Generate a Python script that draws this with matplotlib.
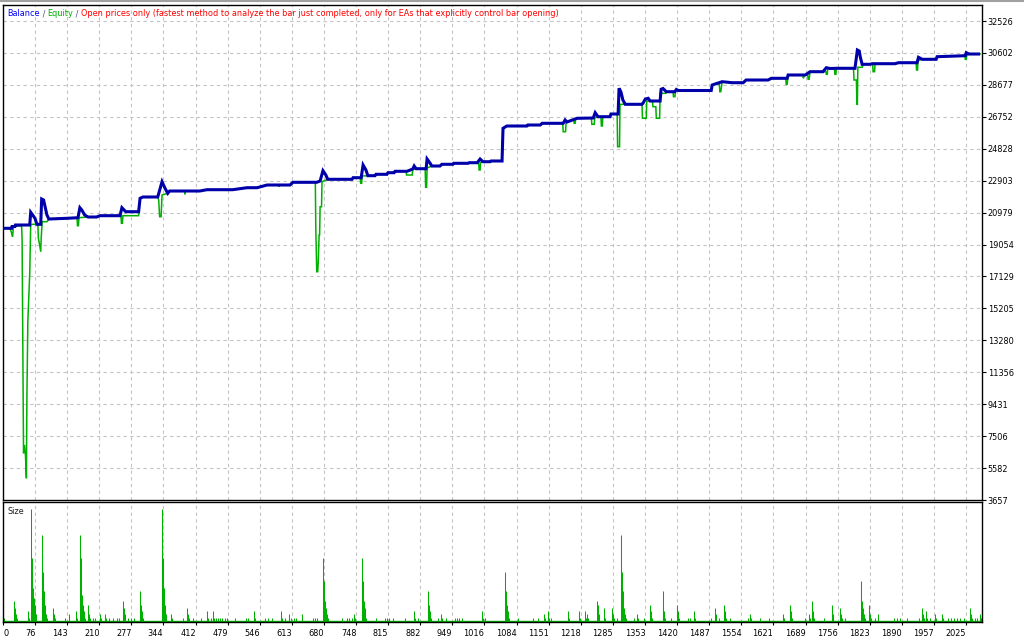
import matplotlib
matplotlib.use("Agg")
import matplotlib.pyplot as plt

# ---------------- data ----------------
balance_idx = [0, 26, 27, 33, 34, 64, 66, 70, 75, 79, 87, 89, 93, 100, 104, 142, 165, 169, 173, 179,
               186, 204, 211, 253, 257, 265, 292, 295, 301, 332, 341, 347, 353, 357, 420, 435, 489, 519,
               540, 561, 609, 615, 665, 672, 678, 684, 688, 739, 741, 758, 762, 768, 772, 787, 789, 812,
               814, 827, 829, 854, 866, 869, 873, 894, 896, 902, 906, 923, 927, 950, 952, 982, 984, 1001,
               1007, 1013, 1028, 1030, 1053, 1055, 1063, 1105, 1107, 1133, 1137, 1181, 1185, 1189, 1210,
               1244, 1248, 1254, 1279, 1281, 1296, 1298, 1302, 1306, 1311, 1346, 1348, 1353, 1359, 1363,
               1384, 1386, 1390, 1397, 1415, 1418, 1422, 1491, 1493, 1499, 1514, 1535, 1558, 1564, 1610,
               1617, 1650, 1652, 1688, 1698, 1725, 1732, 1740, 1753, 1792, 1797, 1801, 1803, 1807, 1824,
               1828, 1876, 1883, 1922, 1925, 1933, 1962, 1964, 2023, 2025, 2031, 2054]
balance_val = [20032, 20032, 20141, 20141, 20231, 20231, 20997, 20834, 20635, 20273, 20273, 21798, 21738,
               20834, 20593, 20635, 20671, 21274, 21135, 20834, 20713, 20713, 20792, 20792, 21274, 21033,
               21033, 21840, 21919, 21919, 22841, 22461, 22142, 22280, 22280, 22359, 22359, 22479, 22479,
               22642, 22642, 22805, 22805, 22883, 23504, 23245, 22986, 22986, 23082, 23082, 23847, 23546,
               23203, 23203, 23287, 23287, 23383, 23383, 23468, 23468, 23606, 23787, 23624, 23624, 24209,
               23968, 23787, 23787, 23890, 23890, 23950, 23950, 23986, 23986, 24209, 24046, 24046, 24089,
               24089, 26059, 26198, 26198, 26258, 26258, 26361, 26361, 26560, 26439, 26662, 26680, 27000,
               26758, 26758, 26921, 26921, 28470, 28247, 27765, 27506, 27506, 27566, 27825, 27867, 27705,
               27705, 28410, 28458, 28265, 28265, 28398, 28338, 28338, 28669, 28729, 28868, 28808, 28808,
               28970, 28970, 29073, 29073, 29272, 29272, 29471, 29471, 29712, 29664, 29676, 29676, 30778,
               30718, 30375, 29917, 29917, 29953, 29953, 30013, 30013, 30339, 30218, 30218, 30375, 30435,
               30616, 30537, 30537]

equity_idx = [0, 22, 24, 26, 28, 30, 47, 48, 49, 51, 53, 55, 57, 58, 60, 64, 66, 81, 82, 84, 87, 88, 90,
              100, 104, 142, 163, 164, 166, 167, 186, 204, 211, 255, 256, 258, 259, 292, 295, 301, 332,
              334, 336, 339, 341, 353, 357, 388, 389, 390, 420, 435, 489, 519, 540, 561, 585, 586, 588,
              609, 615, 662, 663, 665, 667, 668, 670, 671, 672, 675, 676, 688, 739, 741, 756, 757, 759,
              760, 772, 787, 789, 812, 814, 827, 829, 852, 853, 865, 866, 873, 892, 893, 895, 896, 906,
              923, 927, 950, 952, 982, 984, 1004, 1005, 1007, 1008, 1013, 1028, 1030, 1053, 1055, 1061,
              1105, 1107, 1133, 1137, 1180, 1181, 1186, 1187, 1189, 1203, 1204, 1206, 1207, 1210, 1240,
              1241, 1246, 1247, 1254, 1260, 1261, 1263, 1264, 1279, 1281, 1294, 1295, 1299, 1300, 1346,
              1347, 1355, 1356, 1368, 1369, 1375, 1376, 1383, 1384, 1396, 1397, 1411, 1412, 1415, 1416,
              1422, 1491, 1493, 1499, 1508, 1509, 1511, 1514, 1535, 1558, 1564, 1610, 1617, 1647, 1648,
              1650, 1652, 1683, 1684, 1686, 1693, 1694, 1696, 1698, 1725, 1731, 1732, 1734, 1735, 1740,
              1749, 1750, 1752, 1753, 1788, 1789, 1790, 1795, 1796, 1797, 1798, 1807, 1810, 1824, 1829,
              1830, 1833, 1834, 1876, 1883, 1920, 1921, 1923, 1924, 1933, 1962, 1964, 2022, 2023, 2025,
              2026, 2031, 2054]
equity_val = [20032, 20032, 19930, 19749, 19526, 20171, 20171, 19327, 15307, 6472, 6972, 6369, 4965, 9684,
              14403, 17320, 20273, 20273, 19448, 19146, 18622, 19448, 20430, 20430, 20593, 20635, 20671,
              20189, 20189, 20671, 20713, 20713, 20792, 20792, 20334, 20334, 20792, 20792, 21840, 21919,
              21919, 21738, 20732, 20732, 22039, 22142, 22280, 22280, 22081, 22280, 22280, 22359, 22359,
              22479, 22479, 22642, 22642, 22540, 22642, 22642, 22805, 22805, 19990, 17417, 17417, 17941,
              19629, 19629, 21330, 21330, 22841, 22986, 22986, 23082, 23082, 22745, 22745, 23184, 23203,
              23203, 23287, 23287, 23383, 23383, 23468, 23468, 23245, 23245, 23606, 23624, 23624, 22503,
              22503, 23667, 23787, 23787, 23890, 23890, 23950, 23950, 23986, 23986, 23546, 23546, 23986,
              24046, 24046, 24089, 24089, 25957, 26198, 26198, 26258, 26258, 26361, 26361, 25854, 25854,
              26439, 26439, 26600, 26361, 26361, 26630, 26662, 26680, 26300, 26300, 26680, 26758, 26758,
              26198, 26198, 26758, 26758, 26921, 26921, 24950, 24950, 27506, 27506, 26662, 26662, 27705,
              27705, 27361, 27361, 26662, 26662, 28168, 28168, 28265, 28265, 27964, 27964, 28338, 28338,
              28338, 28669, 28729, 28729, 28265, 28265, 28868, 28808, 28808, 28970, 28970, 29073, 29073,
              28711, 28711, 29272, 29272, 29073, 29272, 29272, 29013, 29013, 29471, 29471, 29471, 29314,
              29314, 29664, 29664, 29676, 29314, 29314, 29676, 29676, 29615, 28970, 28970, 27602, 27464,
              29736, 29736, 29917, 29917, 29953, 29471, 29471, 29953, 29953, 30013, 30013, 29573, 29573,
              30134, 30218, 30218, 30375, 30435, 30218, 30218, 30435, 30537, 30537]

size_idx = [10, 31, 33, 35, 37, 61, 63, 67, 69, 71, 73, 75, 77, 90, 92, 94, 96, 98, 100, 113, 115, 117,
            138, 146, 160, 162, 169, 171, 173, 175, 177, 179, 186, 188, 190, 197, 201, 211, 213, 222, 224,
            231, 239, 246, 250, 259, 261, 263, 270, 276, 282, 295, 297, 299, 301, 341, 343, 345, 347, 349,
            360, 362, 385, 393, 395, 397, 406, 423, 435, 437, 443, 448, 450, 454, 458, 462, 467, 473, 477,
            494, 516, 521, 533, 535, 557, 563, 572, 590, 592, 599, 607, 611, 618, 622, 634, 657, 662, 666,
            678, 680, 682, 684, 686, 688, 717, 729, 733, 738, 743, 745, 759, 761, 763, 765, 767, 769, 790,
            807, 812, 816, 825, 849, 869, 871, 877, 898, 900, 902, 904, 919, 925, 927, 936, 955, 959, 963,
            970, 1011, 1013, 1017, 1059, 1061, 1063, 1065, 1067, 1086, 1118, 1128, 1141, 1143, 1150, 1152,
            1156, 1192, 1194, 1215, 1217, 1226, 1228, 1231, 1233, 1251, 1253, 1255, 1257, 1267, 1269, 1284,
            1286, 1288, 1293, 1303, 1305, 1307, 1309, 1311, 1313, 1329, 1336, 1338, 1350, 1362, 1364, 1366,
            1389, 1391, 1393, 1395, 1407, 1419, 1421, 1423, 1443, 1447, 1455, 1457, 1490, 1498, 1500, 1507,
            1518, 1520, 1522, 1530, 1567, 1572, 1574, 1593, 1613, 1641, 1643, 1657, 1659, 1661, 1687, 1695,
            1697, 1703, 1705, 1707, 1728, 1743, 1745, 1747, 1760, 1762, 1764, 1771, 1805, 1807, 1809, 1811,
            1813, 1821, 1823, 1825, 1833, 1841, 1874, 1879, 1887, 1901, 1927, 1933, 1935, 1937, 1941, 1943,
            1950, 1959, 1961, 1974, 1976, 1987, 1993, 2000, 2006, 2012, 2021, 2033, 2035, 2037, 2043, 2048,
            2054, 2056]
size_lots = [0.01, 0.06, 0.04, 0.02, 0.01, 0.03, 0.01, 0.34, 0.19, 0.10, 0.07, 0.05, 0.02, 0.26, 0.15,
             0.09, 0.05, 0.02, 0.01, 0.04, 0.02, 0.01, 0.01, 0.02, 0.03, 0.01, 0.26, 0.19, 0.08, 0.05,
             0.03, 0.01, 0.05, 0.02, 0.01, 0.01, 0.01, 0.02, 0.01, 0.02, 0.01, 0.01, 0.01, 0.01, 0.01,
             0.06, 0.04, 0.02, 0.01, 0.01, 0.01, 0.09, 0.05, 0.03, 0.01, 0.34, 0.19, 0.10, 0.05, 0.02,
             0.02, 0.01, 0.01, 0.04, 0.02, 0.01, 0.01, 0.01, 0.03, 0.01, 0.01, 0.03, 0.01, 0.01, 0.01,
             0.01, 0.01, 0.01, 0.01, 0.01, 0.01, 0.01, 0.03, 0.01, 0.01, 0.01, 0.01, 0.03, 0.01, 0.01,
             0.02, 0.01, 0.01, 0.01, 0.02, 0.01, 0.01, 0.01, 0.19, 0.12, 0.06, 0.04, 0.02, 0.01, 0.01,
             0.01, 0.01, 0.01, 0.02, 0.01, 0.19, 0.12, 0.06, 0.04, 0.02, 0.01, 0.01, 0.01, 0.01, 0.01,
             0.01, 0.01, 0.03, 0.01, 0.01, 0.09, 0.05, 0.03, 0.01, 0.01, 0.02, 0.01, 0.01, 0.01, 0.01,
             0.01, 0.01, 0.03, 0.01, 0.01, 0.15, 0.09, 0.05, 0.03, 0.01, 0.01, 0.01, 0.01, 0.02, 0.01,
             0.03, 0.01, 0.01, 0.03, 0.01, 0.03, 0.01, 0.03, 0.01, 0.02, 0.01, 0.06, 0.05, 0.02, 0.01,
             0.04, 0.01, 0.04, 0.02, 0.01, 0.01, 0.26, 0.15, 0.09, 0.04, 0.02, 0.01, 0.01, 0.02, 0.01,
             0.01, 0.05, 0.03, 0.01, 0.09, 0.05, 0.03, 0.01, 0.01, 0.05, 0.03, 0.01, 0.01, 0.01, 0.03,
             0.01, 0.01, 0.04, 0.02, 0.01, 0.05, 0.03, 0.01, 0.01, 0.01, 0.02, 0.01, 0.01, 0.01, 0.02,
             0.01, 0.05, 0.03, 0.01, 0.01, 0.02, 0.01, 0.06, 0.03, 0.01, 0.01, 0.05, 0.02, 0.01, 0.04,
             0.02, 0.01, 0.01, 0.12, 0.06, 0.04, 0.02, 0.01, 0.05, 0.02, 0.01, 0.01, 0.02, 0.01, 0.01,
             0.01, 0.01, 0.01, 0.04, 0.02, 0.01, 0.03, 0.01, 0.01, 0.02, 0.01, 0.02, 0.01, 0.01, 0.01,
             0.01, 0.01, 0.01, 0.01, 0.04, 0.02, 0.01, 0.01, 0.01, 0.02, 0.01]

x_tick_values = [0, 76, 143, 210, 277, 344, 412, 479, 546, 613, 680, 748, 815, 882, 949, 1016, 1084,
                 1151, 1218, 1285, 1353, 1420, 1487, 1554, 1621, 1689, 1756, 1823, 1890, 1957, 2025]
y_tick_values = [32526, 30602, 28677, 26752, 24828, 22903, 20979, 19054, 17129, 15205, 13280, 11356,
                 9431, 7506, 5582, 3657]

title_parts = ["Balance", " / ", "Equity", " / ",
               "Open prices only (fastest method to analyze the bar just completed, "
               "only for EAs that explicitly control bar opening)"]
size_label = "Size"

# ---------------- style ----------------
BAL_C = "#0000aa"
EQ_C = "#00b000"
SIZE_C = "#00b000"
GRID_C = "#c4c4c4"
TITLE_COLORS = ["#0000ff", "#4a4a8a", "#00b000", "#4a4a8a", "#ff0000"]
FONT = "DejaVu Sans"
FS = 5.9

W, H = 1024, 640
fig = plt.figure(figsize=(W / 100, H / 100), dpi=100)
fig.patch.set_facecolor("white")


def rect(l, t, r, b):
    return [l / W, 1 - b / H, (r - l) / W, (b - t) / H]


ax = fig.add_axes(rect(3, 5, 982, 500))
axs = fig.add_axes(rect(3, 502, 982, 622), sharex=ax)

X_LEFT, X_RIGHT = 8, 2058
ax.set_xlim(X_LEFT, X_RIGHT)
ax.set_ylim(3657, 33491)
axs.set_ylim(-1 / 330, 119 / 330)

grid_kw = dict(color=GRID_C, lw=0.8, ls=(0, (3, 3)), zorder=0)
for v in x_tick_values[1:]:
    ax.axvline(v, **grid_kw)
    axs.axvline(v, **grid_kw)
for v in y_tick_values[:-1]:
    ax.axhline(v, **grid_kw)

ax.plot(equity_idx, equity_val, color=EQ_C, lw=1.1, zorder=2, solid_joinstyle="miter")
ax.plot(balance_idx, balance_val, color=BAL_C, lw=2.2, zorder=3,
        solid_joinstyle="miter", solid_capstyle="butt")

axs.vlines(size_idx, 0, size_lots, color=SIZE_C, lw=0.75, zorder=2)
axs.axhline(0, color=SIZE_C, lw=1.0, zorder=2)

for a in (ax, axs):
    for s in a.spines.values():
        s.set_color("black")
        s.set_linewidth(1.0)
    a.set_facecolor("white")

# y ticks on the right of the main panel
ax.yaxis.tick_right()
ax.set_yticks(y_tick_values)
ax.set_yticklabels([str(v) for v in y_tick_values], fontsize=FS, family=FONT)
ax.tick_params(axis="y", length=3, width=0.8, pad=1, colors="black")
ax.tick_params(axis="x", bottom=False, labelbottom=False)

# x ticks under the size panel
xpos = [max(v, X_LEFT) for v in x_tick_values]
axs.set_xticks(xpos)
axs.set_xticklabels([str(v) for v in x_tick_values], fontsize=FS, family=FONT)
for i, lab in enumerate(axs.get_xticklabels()):
    lab.set_horizontalalignment("left" if i == 0 else "right")
axs.tick_params(axis="x", length=2, width=0.8, pad=3, colors="black")
axs.set_yticks([])

# title in coloured parts, chained one after another
anchor = fig.text(7 / W, 1 - 14 / H, title_parts[0], color=TITLE_COLORS[0],
                  fontsize=FS, family=FONT, va="center", ha="left")
for txt, col in zip(title_parts[1:], TITLE_COLORS[1:]):
    anchor = ax.annotate(txt, xy=(1, 0.5), xycoords=anchor, va="center", ha="left",
                         color=col, fontsize=FS, family=FONT, annotation_clip=False)

axs.text(5 / 979, 1 - 9 / 120, size_label, transform=axs.transAxes, fontsize=FS,
         family=FONT, color="#202020", va="center", ha="left")

# thin grey line at the very top
fig.add_artist(plt.Line2D([0, 1], [1 - 0.5 / H, 1 - 0.5 / H], color="#a0a0a0", lw=1.5,
                          transform=fig.transFigure))

fig.savefig("out.png", dpi=100, facecolor="white")
